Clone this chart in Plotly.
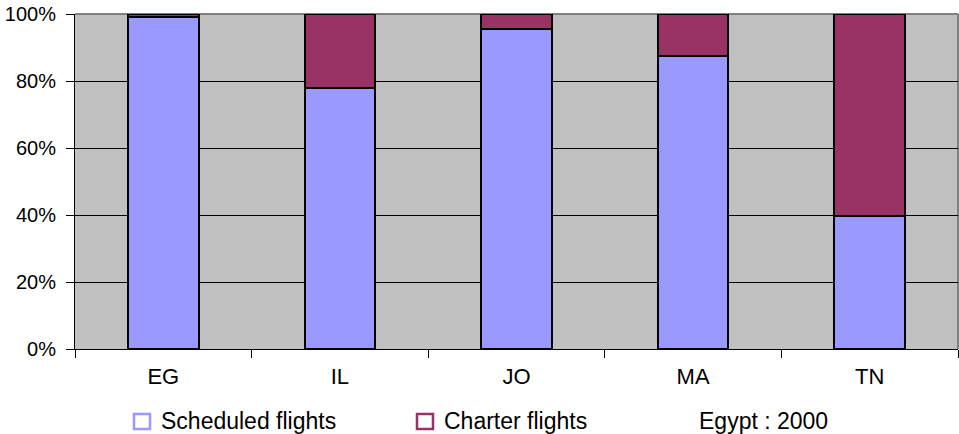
import plotly.graph_objects as go

# Share of passenger flights by type, per destination country
countries = ["EG", "IL", "JO", "MA", "TN"]
scheduled = [99.1, 77.9, 95.4, 87.5, 39.8]
charter = [0.9, 22.1, 4.6, 12.5, 60.2]
y_ticks = [0, 20, 40, 60, 80, 100]
y_tick_text = ["0%", "20%", "40%", "60%", "80%", "100%"]

BLUE = "#9999FF"
MAROON = "#993366"
FONT = "Liberation Sans, Arial, sans-serif"

fig = go.Figure()
fig.add_trace(go.Bar(x=countries, y=scheduled, name="Scheduled flights",
                     marker=dict(color=BLUE, line=dict(color="black", width=2)),
                     showlegend=False))
fig.add_trace(go.Bar(x=countries, y=charter, name="Charter flights",
                     marker=dict(color=MAROON, line=dict(color="black", width=2)),
                     showlegend=False))

W, H = 959, 434
L, R, T, B = 75, 1, 14, 85
pw, ph = W - L - R, H - T - B

def px(xp):
    return (xp - L) / pw

def py(yp):
    return (H - B - yp) / ph

# grey frame on the top and right edges of the plot area
shapes = [
    dict(type="line", xref="paper", yref="paper", x0=0, x1=1, y0=1, y1=1,
         line=dict(color="#808080", width=2), layer="between"),
    dict(type="line", xref="paper", yref="paper", x0=1, x1=1, y0=0, y1=1,
         line=dict(color="#808080", width=2), layer="between"),
]
annotations = []

# hand-built legend: open coloured squares with labels, plus the caption
legend_items = [("Scheduled flights", BLUE, 133, 160), ("Charter flights", MAROON, 416, 443)]
for label, color, x0, tx in legend_items:
    shapes.append(dict(type="rect", xref="paper", yref="paper",
                       x0=px(x0 + 1), x1=px(x0 + 17), y0=py(429), y1=py(414),
                       line=dict(color=color, width=2.5), fillcolor="white"))
    annotations.append(dict(xref="paper", yref="paper", x=px(tx - 1), y=py(421),
                            text=label, showarrow=False, xanchor="left", yanchor="middle",
                            font=dict(family=FONT, size=23, color="black")))
annotations.append(dict(xref="paper", yref="paper", x=px(697), y=py(421),
                        text="Egypt : 2000", showarrow=False, xanchor="left", yanchor="middle",
                        font=dict(family=FONT, size=23, color="black")))

fig.update_layout(
    width=W, height=H,
    margin=dict(l=L, r=R, t=T, b=B),
    barmode="stack", bargap=0.6,
    plot_bgcolor="#C0C0C0", paper_bgcolor="white",
    font=dict(family=FONT, size=20, color="black"),
    shapes=shapes, annotations=annotations,
    xaxis=dict(showline=True, linecolor="black", linewidth=1,
               ticks="outside", ticklen=8, tickcolor="black", tickson="boundaries",
               ticklabelstandoff=8,
               showgrid=False, tickfont=dict(size=22), fixedrange=True),
    yaxis=dict(range=[0, 100], tickvals=y_ticks, ticktext=y_tick_text,
               showline=True, linecolor="black", linewidth=1,
               ticks="outside", ticklen=8, tickcolor="black",
               ticklabelstandoff=6,
               showgrid=True, gridcolor="black", gridwidth=1,
               zeroline=False, tickfont=dict(size=20), fixedrange=True),
)

fig.write_html("out.html")
